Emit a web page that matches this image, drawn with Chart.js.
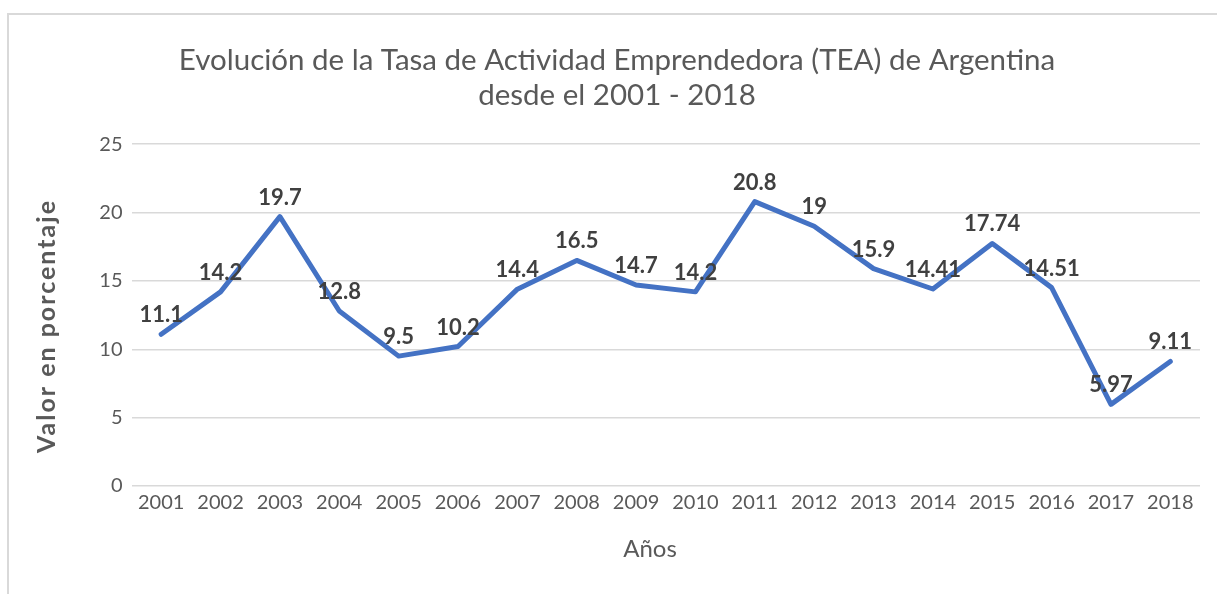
<!DOCTYPE html>
<html>
<head>
<meta charset="utf-8">
<title>TEA Argentina</title>
<script src="https://cdn.jsdelivr.net/npm/chart.js@4"></script>
<style>
	html, body { margin: 0; padding: 0; background: #fff; overflow: hidden; }
	#frame { position: absolute; left: 7px; top: 13px; width: 1260px; height: 640px; border: 2px solid #d9d9d9; }
	#tea-chart { position: absolute; left: 0; top: 0; }
</style>
</head>
<body>
<div id="frame"></div>
<canvas id="tea-chart" width="1217" height="594"></canvas>
<script>
// data
const years = ['2001', '2002', '2003', '2004', '2005', '2006', '2007', '2008', '2009',
	'2010', '2011', '2012', '2013', '2014', '2015', '2016', '2017', '2018'];
const tea = [11.1, 14.2, 19.7, 12.8, 9.5, 10.2, 14.4, 16.5, 14.7,
	14.2, 20.8, 19, 15.9, 14.41, 17.74, 14.51, 5.97, 9.11];
const yTicks = [0, 5, 10, 15, 20, 25];
const chartTitle = ['Evolución de la Tasa de Actividad Emprendedora (TEA) de Argentina', 'desde el 2001 - 2018'];
const xTitle = 'Años';
const yTitle = 'Valor en porcentaje';

const grey = '#595959';

// value labels above each point
const pointLabels = {
	id: 'pointLabels',
	afterDatasetsDraw(chart) {
		const ctx = chart.ctx;
		const meta = chart.getDatasetMeta(0);
		ctx.save();
		ctx.font = 'bold 22px Lato';
		ctx.fillStyle = '#404040';
		ctx.textAlign = 'center';
		ctx.textBaseline = 'alphabetic';
		meta.data.forEach(function (pt, i) {
			ctx.fillText(String(tea[i]), pt.x, pt.y - 12);
		});
		ctx.restore();
	}
};

// axis titles (Excel centres them on the whole chart box, not the plot)
const axisTitles = {
	id: 'axisTitles',
	afterDraw(chart) {
		const ctx = chart.ctx;
		ctx.save();
		ctx.fillStyle = grey;
		ctx.textAlign = 'center';
		ctx.textBaseline = 'middle';
		ctx.font = '24px Lato';
		ctx.fillText(xTitle, 650, 549);
		ctx.translate(47, 326);
		ctx.rotate(-Math.PI / 2);
		ctx.font = 'bold 25px Lato';
		ctx.letterSpacing = '2px';
		ctx.fillText(yTitle, 0, 0);
		ctx.restore();
	}
};

const teaChart = new Chart(document.getElementById('tea-chart'), {
	type: 'line',
	data: {
		labels: years,
		datasets: [{
			data: tea,
			borderColor: '#4472C4',
			borderWidth: 5,
			borderJoinStyle: 'round',
			borderCapStyle: 'round',
			pointRadius: 0,
			tension: 0,
			fill: false
		}]
	},
	options: {
		responsive: false,
		animation: false,
		devicePixelRatio: 1,
		layout: { padding: { left: 34, right: 17, top: 0, bottom: 0 } },
		plugins: {
			legend: { display: false },
			tooltip: { enabled: false },
			title: {
				display: true,
				text: chartTitle,
				color: grey,
				font: { family: 'Lato', size: 29.5, weight: 'normal', lineHeight: 1.19 },
				padding: { top: 43, bottom: 31 }
			}
		},
		scales: {
			x: {
				offset: true,
				grid: { display: false, drawTicks: false },
				border: { display: false },
				ticks: { color: grey, font: { family: 'Lato', size: 20 }, padding: 5, maxRotation: 0, autoSkip: false },
				afterFit: function (scale) { scale.height = 108; }
			},
			y: {
				min: 0,
				max: 25,
				afterBuildTicks: function (scale) { scale.ticks = yTicks.map(v => ({ value: v })); },
				grid: { color: '#d9d9d9', lineWidth: 1.5, drawTicks: false },
				border: { display: false },
				ticks: { color: grey, font: { family: 'Lato', size: 20 }, padding: 9 },
				afterFit: function (scale) { scale.width = 97.5; }
			}
		}
	},
	plugins: [pointLabels, axisTitles]
});
</script>
</body>
</html>
